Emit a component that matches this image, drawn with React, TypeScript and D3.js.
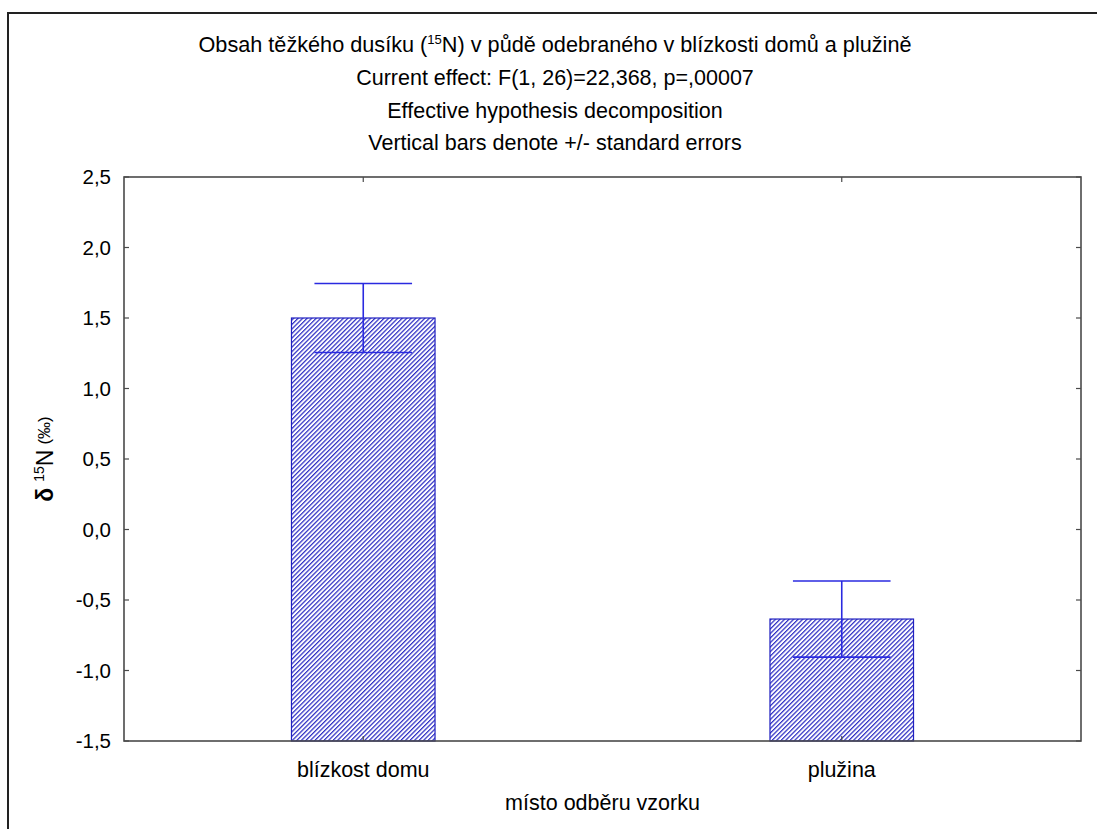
import React from "react";
import * as d3 from "d3";

const categories = ["blízkost domu", "plužina"];
const means = [1.5, -0.635];
const stdErrors = [0.245, 0.27];
const yTicks = [-1.5, -1.0, -0.5, 0.0, 0.5, 1.0, 1.5, 2.0, 2.5];
const titleLines = [
  "Current effect: F(1, 26)=22,368, p=,00007",
  "Effective hypothesis decomposition",
  "Vertical bars denote +/- standard errors",
];

const W = 1097;
const H = 829;
const plot = { left: 124, right: 1081, top: 177, bottom: 741 };
const sans = "'Liberation Sans', Arial, sans-serif";
const FS = 21.5;

export default function App() {
  const y = d3.scaleLinear().domain([-1.5, 2.5]).range([plot.bottom, plot.top]);
  const x = d3
    .scalePoint<string>()
    .domain(categories)
    .range([plot.left, plot.right])
    .padding(0.5);
  const plotW = plot.right - plot.left;
  const barW = plotW * 0.15;
  const capW = plotW * 0.102;
  const blue = "#2a2ae0";
  const fmt = (v: number) => d3.format(".1f")(v).replace(".", ",").replace("−", "-");
  const titleCx = 555;

  return (
    <svg width={W} height={H} style={{ position: "absolute", left: 0, top: 0, background: "#fff" }}>
      <defs>
        <pattern id="hatch" patternUnits="userSpaceOnUse" width={3.2} height={3.2} patternTransform="rotate(45)">
          <rect width={3.2} height={3.2} fill="#fff" />
          <line x1={0.6} y1={0} x2={0.6} y2={3.2} stroke="#3030c4" strokeWidth={1.3} />
        </pattern>
      </defs>
      <rect x={0} y={0} width={W} height={H} fill="#fff" />
      {/* outer frame */}
      <path d={`M8,${H} V13 H${W}`} fill="none" stroke="#222" strokeWidth={2} />

      {/* title */}
      <text x={titleCx} y={52} textAnchor="middle" fontFamily={sans} fontSize={FS} fill="#000"
        textLength={713} lengthAdjust="spacingAndGlyphs">
        Obsah těžkého dusíku (<tspan fontSize={13} dy={-8}>15</tspan>
        <tspan dy={8}>N) v půdě odebraného v blízkosti domů a plužině</tspan>
      </text>
      {titleLines.map((t, i) => (
        <text key={i} x={titleCx} y={85 + i * 32.7} textAnchor="middle" fontFamily={sans} fontSize={FS} fill="#000">
          {t}
        </text>
      ))}

      {/* bars */}
      {categories.map((c, i) => {
        const cx = x(c)!;
        const yv = y(means[i]);
        const yBase = y(-1.5);
        return (
          <rect
            key={c}
            x={cx - barW / 2}
            y={yv}
            width={barW}
            height={yBase - yv}
            fill="url(#hatch)"
            stroke="#2020c0"
            strokeWidth={1.2}
          />
        );
      })}

      {/* error bars */}
      {categories.map((c, i) => {
        const cx = x(c)!;
        const hi = y(means[i] + stdErrors[i]);
        const lo = y(means[i] - stdErrors[i]);
        return (
          <g key={c} stroke={blue} strokeWidth={1.6}>
            <line x1={cx} x2={cx} y1={hi} y2={lo} />
            <line x1={cx - capW / 2} x2={cx + capW / 2} y1={hi} y2={hi} />
            <line x1={cx - capW / 2} x2={cx + capW / 2} y1={lo} y2={lo} />
          </g>
        );
      })}

      {/* plot frame */}
      <rect
        x={plot.left}
        y={plot.top}
        width={plotW}
        height={plot.bottom - plot.top}
        fill="none"
        stroke="#4a4a4a"
        strokeWidth={1.6}
      />

      {/* y ticks */}
      {yTicks.map((t) => (
        <g key={t}>
          <line x1={plot.left} x2={plot.left + 5} y1={y(t)} y2={y(t)} stroke="#4a4a4a" strokeWidth={1.2} />
          <line x1={plot.right - 5} x2={plot.right} y1={y(t)} y2={y(t)} stroke="#4a4a4a" strokeWidth={1.2} />
          <text x={111} y={y(t)} dy="0.36em" textAnchor="end" fontFamily={sans} fontSize={20.5} fill="#000">
            {fmt(t)}
          </text>
        </g>
      ))}

      {/* x ticks and labels */}
      {categories.map((c) => (
        <g key={c}>
          <line x1={x(c)!} x2={x(c)!} y1={plot.bottom} y2={plot.bottom - 5} stroke="#4a4a4a" strokeWidth={1.2} />
          <line x1={x(c)!} x2={x(c)!} y1={plot.top} y2={plot.top + 5} stroke="#4a4a4a" strokeWidth={1.2} />
          <text x={x(c)!} y={777} textAnchor="middle" fontFamily={sans} fontSize={FS} fill="#000">
            {c}
          </text>
        </g>
      ))}

      {/* axis titles */}
      <text x={(plot.left + plot.right) / 2} y={810} textAnchor="middle" fontFamily={sans} fontSize={FS} fill="#000">
        místo odběru vzorku
      </text>
      <text
        transform={`translate(53, ${(plot.top + plot.bottom) / 2}) rotate(-90)`}
        textAnchor="middle"
        fontFamily={sans}
        fontSize={23}
        fill="#000"
      >
        <tspan fontWeight="bold">δ</tspan>
        <tspan fontSize={14} dx={6} dy={-9}>15</tspan>
        <tspan dy={9}>N</tspan>
        <tspan fontSize={17} dx={5} dy={-3}>(‰)</tspan>
      </text>
    </svg>
  );
}
